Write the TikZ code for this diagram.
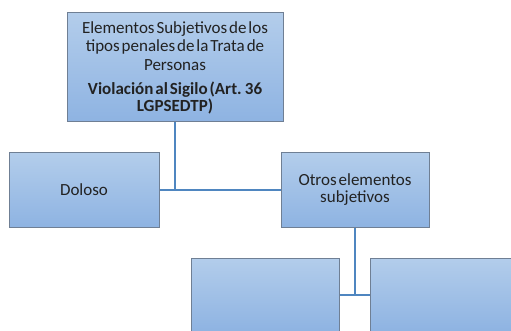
\documentclass[tikz,border=0pt]{standalone}
\usepackage{fontspec}
\setmainfont{Carlito}[WordSpace=0.5]
\usepackage{xcolor}
\definecolor{boxtop}{HTML}{B3CDEB}
\definecolor{boxbot}{HTML}{8EB3E2}
\definecolor{boxline}{HTML}{6F7F94}
\definecolor{linkblue}{HTML}{4F86C0}
\definecolor{ink}{HTML}{222222}
\usepackage{tikz}
\usetikzlibrary{positioning,calc}

\begin{document}
\begin{tikzpicture}[x=1pt, y=-1pt,
    box/.style={draw=boxline, line width=1pt, top color=boxtop, bottom color=boxbot,
      text=ink, align=center, inner sep=0pt,
      font=\fontsize{17}{18.5}\selectfont},
    link/.style={draw=linkblue, line width=2.6pt}]
  \useasboundingbox (0,0) rectangle (511,331);
  \clip (0,0) rectangle (511,331);
  % cuadros
  \node[box, minimum width=216pt, minimum height=109pt] (raiz) at (175,67.5)
    {Elementos Subjetivos de los\\tipos penales de la Trata de\\Personas\\[6pt]
     \textbf{Violación al Sigilo (Art. 36}\\[-2pt]\textbf{LGPSEDTP)}};
  \node[box, minimum width=150pt, minimum height=74pt] (dolo) at (84,190) {Doloso};
  \node[box, minimum width=148pt, minimum height=74pt,
    font=\fontsize{17}{17}\selectfont] (otros) at (355,190)
    {Otros elementos\\subjetivos};
  \node[box, minimum width=148pt, minimum height=74pt] (hijoA) at (265,295) {};
  \node[box, minimum width=148pt, minimum height=74pt] (hijoB) at (444,295) {};
  % conectores
  \draw[link] (dolo.east) -- (otros.west);
  \draw[link] (raiz.south) -- (raiz.south |- dolo.east);
  \draw[link] (hijoA.east) -- (hijoB.west);
  \draw[link] (otros.south) -- (otros.south |- hijoA.east);
\end{tikzpicture}
\end{document}
